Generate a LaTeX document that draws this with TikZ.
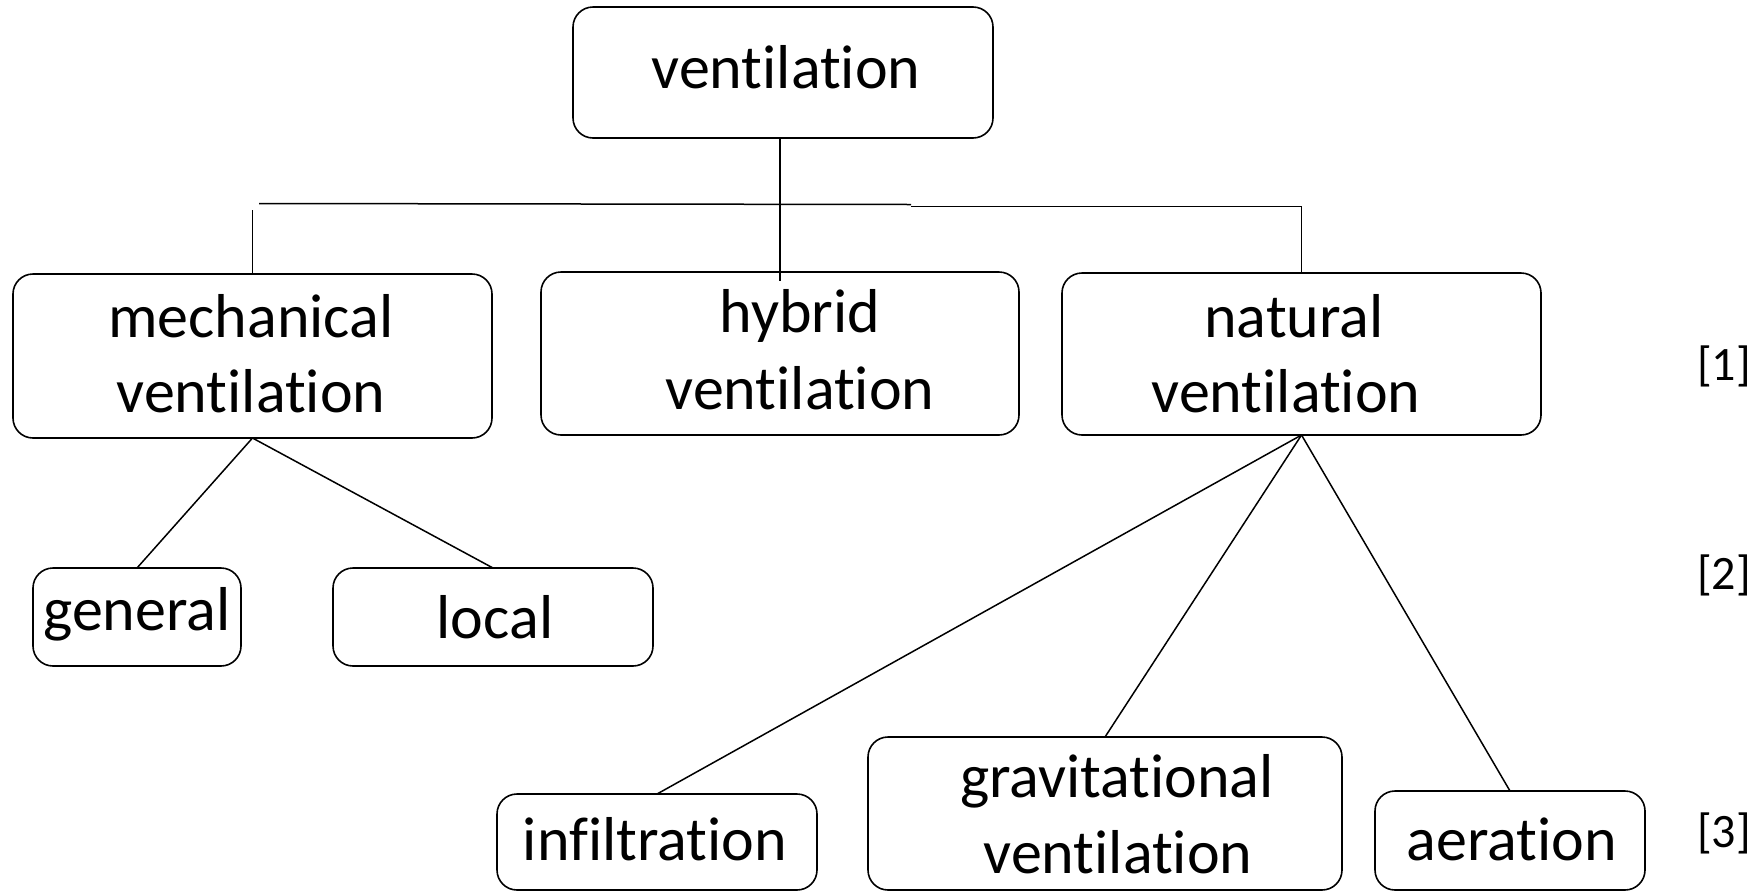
\documentclass[tikz,border=0pt]{standalone}
\usepackage{fontspec}
\setmainfont{Carlito}[Ligatures={NoCommon,NoContextual}]
\begin{document}
\begin{tikzpicture}[x=1pt,y=-1pt,
  box/.style={draw, line width=1.6pt, rounded corners=20pt, inner sep=0pt, outer sep=0pt},
  txt/.style={anchor=base, inner sep=0pt, font=\fontsize{62}{75}\selectfont},
  lvl/.style={inner sep=0pt, font=\fontsize{48}{56}\selectfont},
  conn/.style={line width=1.5pt}]
\useasboundingbox (0,0) rectangle (1760,892);
% boxes
\node[box, minimum width=420pt, minimum height=131pt] (vent) at (783,72.5) {};
\node[box, minimum width=479pt, minimum height=164pt] (mech) at (252.5,356) {};
\node[box, minimum width=478pt, minimum height=163pt] (hyb) at (780,353.5) {};
\node[box, minimum width=479pt, minimum height=162pt] (nat) at (1301.5,354) {};
\node[box, minimum width=208pt, minimum height=98pt] (gen) at (137,617) {};
\node[box, minimum width=320pt, minimum height=98pt] (loc) at (493,617) {};
\node[box, minimum width=320pt, minimum height=96pt] (inf) at (657,842) {};
\node[box, minimum width=474pt, minimum height=153pt] (grav) at (1105,813.5) {};
\node[box, minimum width=270pt, minimum height=99pt] (aer) at (1510,840.5) {};
% texts
\node[txt] (ventT) at (786,88) {ventilation};
\node[txt] (mechT1) at (251,337) {mechanical};
\node[txt] (mechT2) at (251,412) {ventilation};
\node[txt] (hybT1) at (800,332) {hybrid};
\node[txt] (hybT2) at (800,409) {ventilation};
\node[txt] (natT1) at (1294,337) {natural};
\node[txt] (natT2) at (1286,412) {ventilation};
\node[txt] (genT) at (137,630) {general};
\node[txt] (locT) at (495,638) {local};
\node[txt] (infT) at (655,860) {infiltration};
\node[txt] (gravT1) at (1117,797) {gravitational};
\node[txt] (gravT2) at (1118,873) {ventilation};
\node[txt] (aerT) at (1512,860) {aeration};
% level labels
\node[lvl] (l1) at (1724,366) {[1]};
\node[lvl] (l2) at (1724,575) {[2]};
\node[lvl] (l3) at (1724,833) {[3]};
% connector coordinates
\coordinate (hL) at (259,203.5);
\coordinate (hM1) at (911,204.5);
\coordinate (hM2) at (911,206.5);
\coordinate (hR) at (1301.5,206.5);
\coordinate (vL) at (252.5,210);
\coordinate (vC) at (780,281);
% connectors
\draw[conn] (vent.south -| vC) -- (vC);
\draw[conn] (hL) -- (hM1);
\draw[conn] (hM2) -- (hR) -- (nat.north);
\draw[conn] (vL) -- (mech.north);
\draw[conn] (mech.south) -- (gen.north);
\draw[conn] (mech.south) -- (loc.north);
\draw[conn] (nat.south) -- (inf.north);
\draw[conn] (nat.south) -- (grav.north);
\draw[conn] (nat.south) -- (aer.north);
\end{tikzpicture}
\end{document}
